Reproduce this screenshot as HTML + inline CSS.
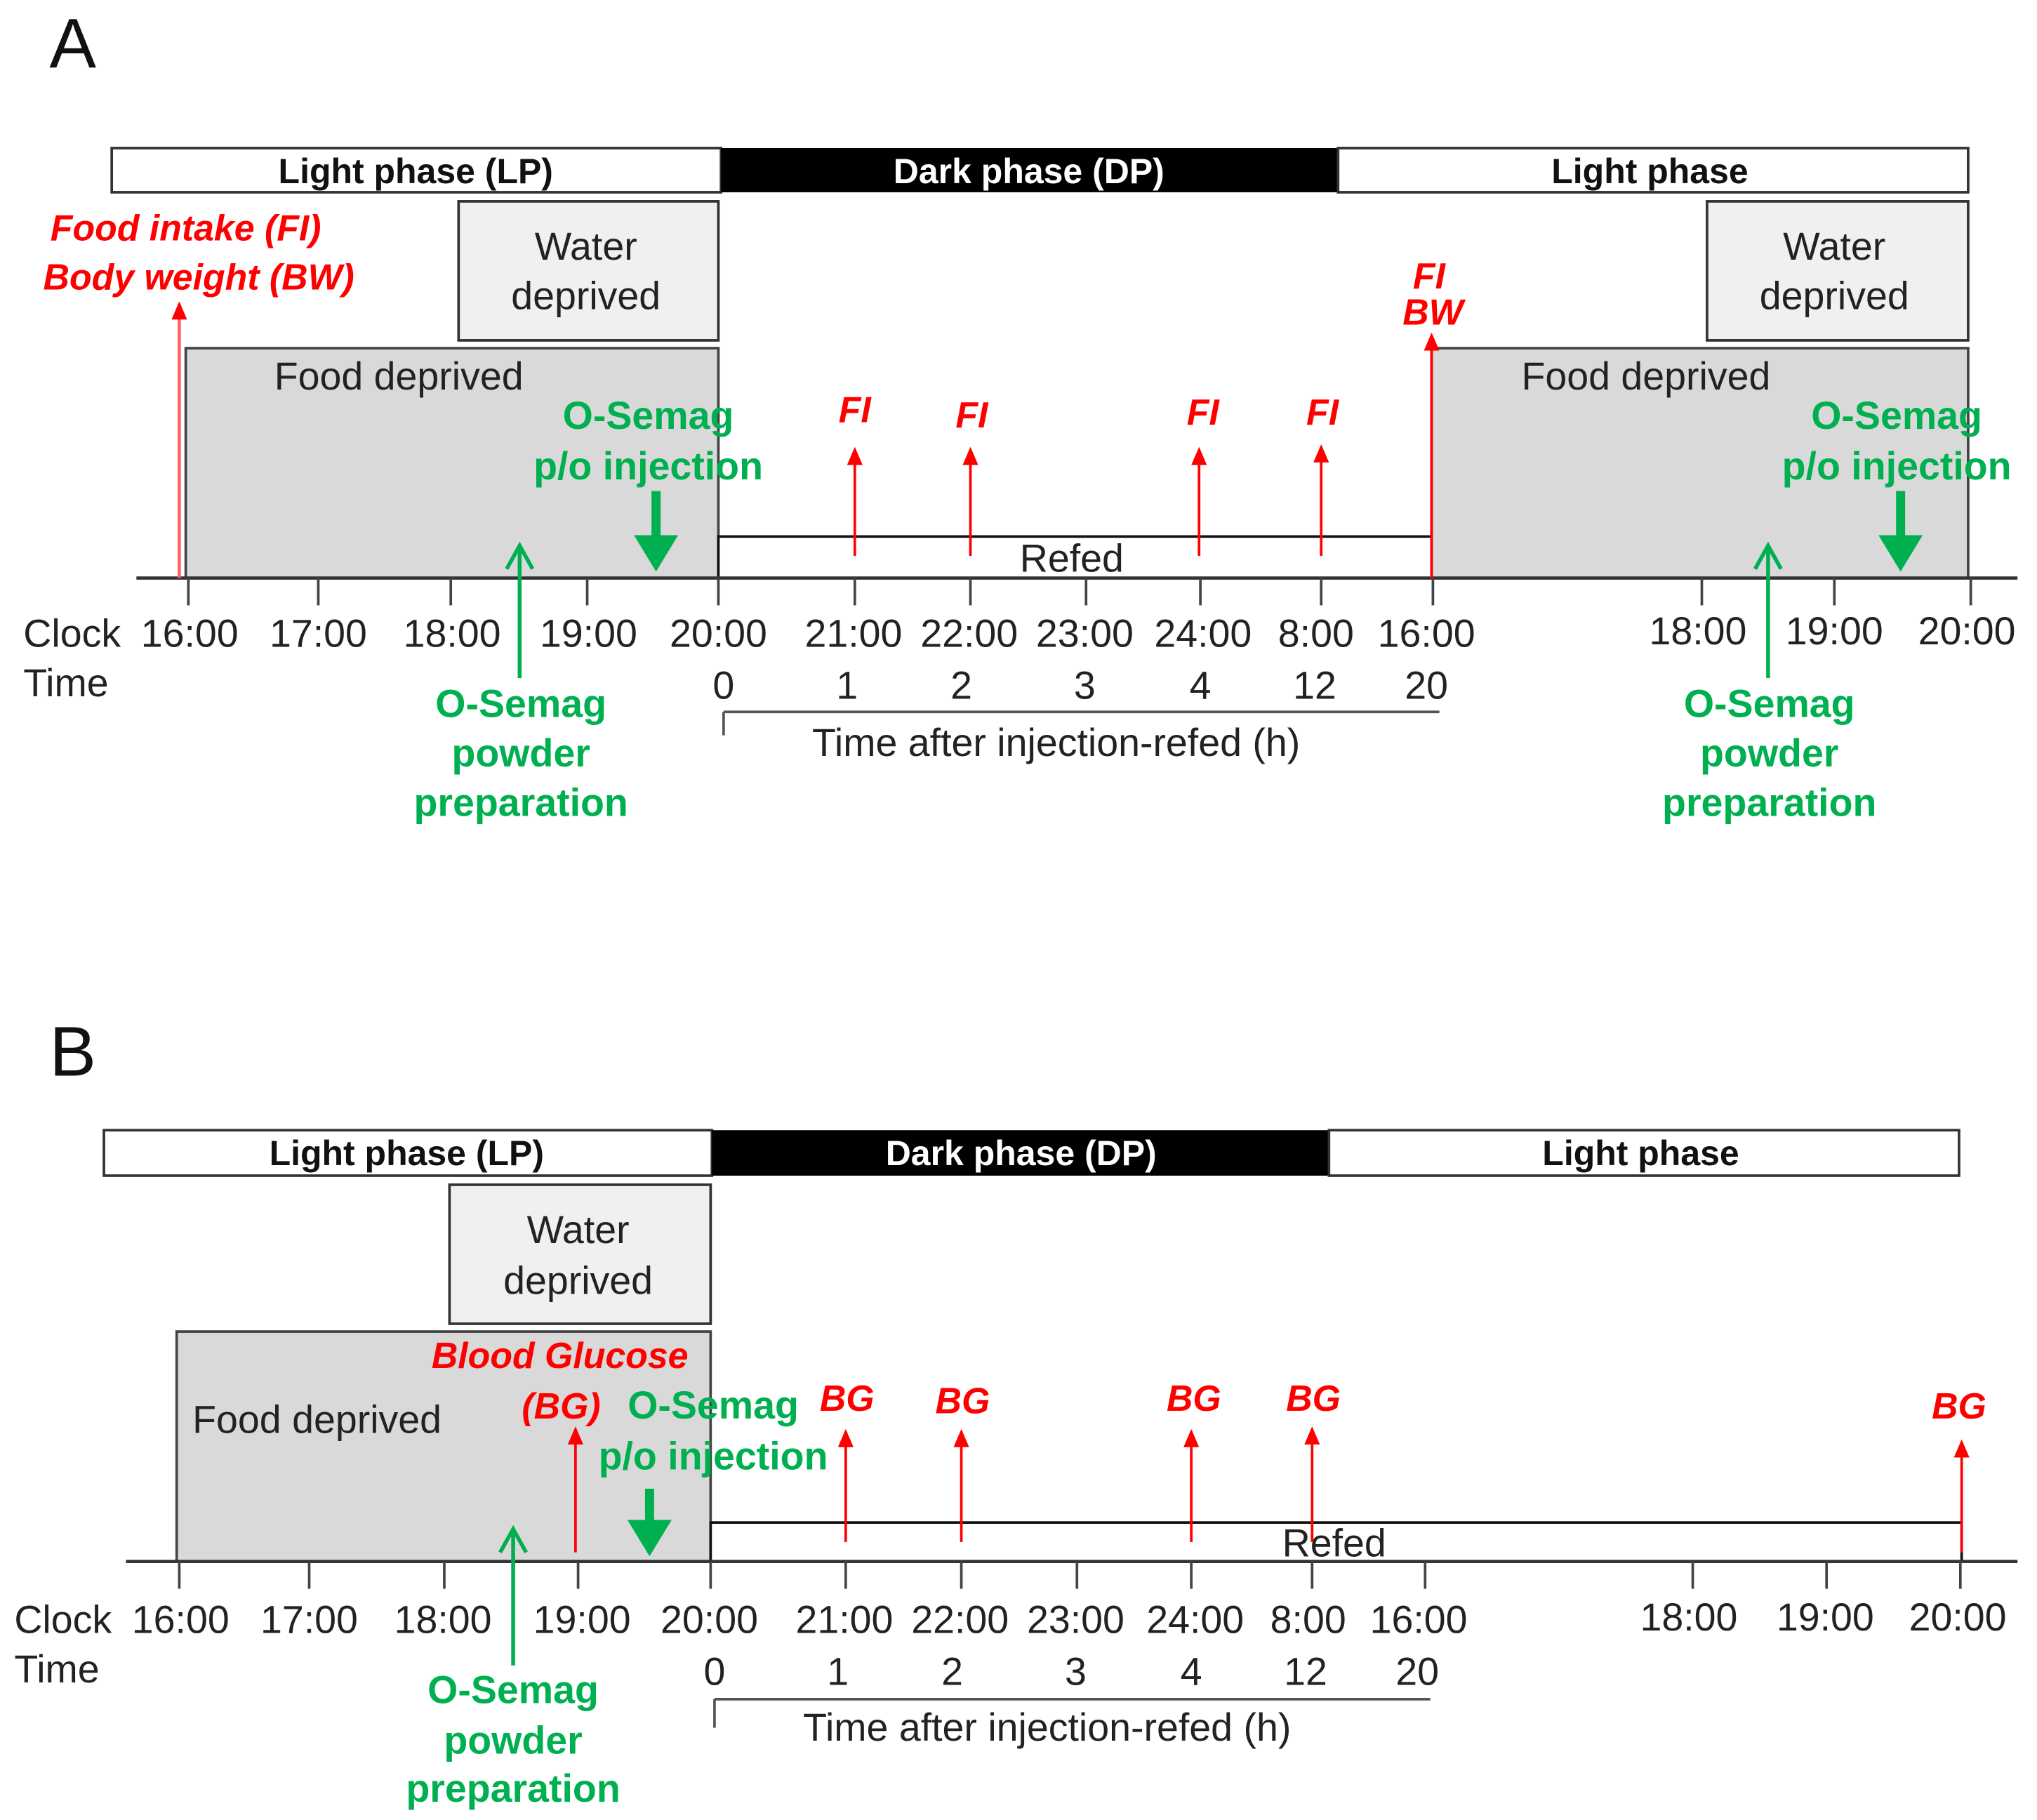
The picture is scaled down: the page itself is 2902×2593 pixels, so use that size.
<!DOCTYPE html>
<html><head><meta charset="utf-8"><style>
html,body{margin:0;padding:0;background:#fff}
svg{display:block}
text{font-family:"Liberation Sans",Arial,sans-serif}
.t{font-size:30px;fill:#222}
.ph{font-size:27px;font-weight:bold}
.r{font-size:28px;font-weight:bold;font-style:italic;fill:#ff0000}
.g{font-size:30px;font-weight:bold;fill:#00b050}
</style></head><body>
<svg width="2902" height="2593" viewBox="0 0 1568 1401" preserveAspectRatio="none" xmlns="http://www.w3.org/2000/svg">
<defs>
<marker id="ra" markerWidth="14" markerHeight="12" refX="12" refY="6" orient="auto" markerUnits="userSpaceOnUse"><path d="M0,0 L14,6 L0,12 z" fill="#ff0000"/></marker>
</defs>

<!-- PANEL A -->
<text x="38" y="52" font-size="54" fill="#111">A</text>
<rect x="86" y="114" width="469" height="34" fill="#fff" stroke="#333" stroke-width="2"/>
<rect x="555" y="114" width="475" height="34" fill="#000"/>
<rect x="1030" y="114" width="485" height="34" fill="#fff" stroke="#333" stroke-width="2"/>
<text x="320" y="141" class="ph" text-anchor="middle" fill="#111">Light phase (LP)</text>
<text x="792" y="141" class="ph" text-anchor="middle" fill="#fff">Dark phase (DP)</text>
<text x="1270" y="141" class="ph" text-anchor="middle" fill="#111">Light phase</text>

<rect x="353" y="155" width="200" height="107" fill="#f0f0f0" stroke="#333" stroke-width="2"/>
<text x="451" y="200" class="t" text-anchor="middle">Water</text>
<text x="451" y="238" class="t" text-anchor="middle">deprived</text>
<rect x="1314" y="155" width="201" height="107" fill="#f0f0f0" stroke="#333" stroke-width="2"/>
<text x="1412" y="200" class="t" text-anchor="middle">Water</text>
<text x="1412" y="238" class="t" text-anchor="middle">deprived</text>

<rect x="143" y="268" width="410" height="177" fill="#d9d9d9" stroke="#444" stroke-width="2"/>
<text x="307" y="300" class="t" text-anchor="middle">Food deprived</text>
<rect x="1102" y="268" width="413" height="177" fill="#d9d9d9" stroke="#444" stroke-width="2"/>
<text x="1267" y="300" class="t" text-anchor="middle">Food deprived</text>

<rect x="553" y="413" width="549" height="32" fill="#fff" stroke="#111" stroke-width="2"/>
<text x="825" y="440" class="t" text-anchor="middle">Refed</text>
<line x1="105" y1="445" x2="1553" y2="445" stroke="#333" stroke-width="2.5"/>
<g stroke="#444" stroke-width="2">
<line x1="145" y1="445" x2="145" y2="466"/><line x1="245" y1="445" x2="245" y2="466"/><line x1="347" y1="445" x2="347" y2="466"/><line x1="452" y1="445" x2="452" y2="466"/><line x1="553" y1="445" x2="553" y2="466"/><line x1="658" y1="445" x2="658" y2="466"/><line x1="747" y1="445" x2="747" y2="466"/><line x1="836" y1="445" x2="836" y2="466"/><line x1="924" y1="445" x2="924" y2="466"/><line x1="1017" y1="445" x2="1017" y2="466"/><line x1="1103" y1="445" x2="1103" y2="466"/><line x1="1310" y1="445" x2="1310" y2="466"/><line x1="1412" y1="445" x2="1412" y2="466"/><line x1="1517" y1="445" x2="1517" y2="466"/>
</g>
<g class="t" text-anchor="middle">
<text x="18" y="498" text-anchor="start">Clock</text>
<text x="146" y="498">16:00</text><text x="245" y="498">17:00</text><text x="348" y="498">18:00</text><text x="453" y="498">19:00</text><text x="553" y="498">20:00</text><text x="657" y="498">21:00</text><text x="746" y="498">22:00</text><text x="835" y="498">23:00</text><text x="926" y="498">24:00</text><text x="1013" y="498">8:00</text><text x="1098" y="498">16:00</text>
<text x="1307" y="496">18:00</text><text x="1412" y="496">19:00</text><text x="1514" y="496">20:00</text>
<text x="18" y="536" text-anchor="start">Time</text>
<text x="557" y="538">0</text><text x="652" y="538">1</text><text x="740" y="538">2</text><text x="835" y="538">3</text><text x="924" y="538">4</text><text x="1012" y="538">12</text><text x="1098" y="538">20</text>
<text x="813" y="582">Time after injection-refed (h)</text>
</g>
<line x1="557" y1="548" x2="1108" y2="548" stroke="#555" stroke-width="2"/>
<line x1="557" y1="548" x2="557" y2="566" stroke="#555" stroke-width="2"/>

<!-- red A -->
<line x1="138" y1="445" x2="138" y2="234" stroke="#ff6060" stroke-width="2.5" marker-end="url(#ra)"/>
<text x="143" y="185" class="r" text-anchor="middle">Food intake (FI)</text>
<text x="153" y="223" class="r" text-anchor="middle">Body weight (BW)</text>
<g stroke="#ff0000" stroke-width="2" marker-end="url(#ra)">
<line x1="658" y1="428" x2="658" y2="346"/><line x1="747" y1="428" x2="747" y2="346"/><line x1="923" y1="428" x2="923" y2="346"/><line x1="1017" y1="428" x2="1017" y2="344"/>
<line x1="1102" y1="445" x2="1102" y2="258"/>
</g>
<text x="658" y="325" class="r" text-anchor="middle">FI</text>
<text x="748" y="329" class="r" text-anchor="middle">FI</text>
<text x="926" y="327" class="r" text-anchor="middle">FI</text>
<text x="1018" y="327" class="r" text-anchor="middle">FI</text>
<text x="1100" y="222" class="r" text-anchor="middle">FI</text>
<text x="1103" y="250" class="r" text-anchor="middle">BW</text>

<!-- green A -->
<text x="499" y="330" class="g" text-anchor="middle">O-Semag</text>
<text x="499" y="369" class="g" text-anchor="middle">p/o injection</text>
<line x1="505" y1="378" x2="505" y2="415" stroke="#00b050" stroke-width="7"/>
<path d="M488,412 L522,412 L505,440 z" fill="#00b050"/>
<text x="1460" y="330" class="g" text-anchor="middle">O-Semag</text>
<text x="1460" y="369" class="g" text-anchor="middle">p/o injection</text>
<line x1="1463" y1="378" x2="1463" y2="415" stroke="#00b050" stroke-width="7"/>
<path d="M1446,412 L1480,412 L1463,440 z" fill="#00b050"/>
<g stroke="#00b050" stroke-width="3" fill="none">
<line x1="400" y1="522" x2="400" y2="420"/><path d="M390,438 L400,420 L410,438"/>
<line x1="1361" y1="522" x2="1361" y2="420"/><path d="M1351,438 L1361,420 L1371,438"/>
</g>
<g class="g" text-anchor="middle">
<text x="401" y="552">O-Semag</text><text x="401" y="590">powder</text><text x="401" y="628">preparation</text>
<text x="1362" y="552">O-Semag</text><text x="1362" y="590">powder</text><text x="1362" y="628">preparation</text>
</g>

<!-- PANEL B -->
<text x="38" y="828" font-size="54" fill="#111">B</text>
<rect x="80" y="870" width="468" height="35" fill="#fff" stroke="#333" stroke-width="2"/>
<rect x="548" y="870" width="475" height="35" fill="#000"/>
<rect x="1023" y="870" width="485" height="35" fill="#fff" stroke="#333" stroke-width="2"/>
<text x="313" y="897" class="ph" text-anchor="middle" fill="#111">Light phase (LP)</text>
<text x="786" y="897" class="ph" text-anchor="middle" fill="#fff">Dark phase (DP)</text>
<text x="1263" y="897" class="ph" text-anchor="middle" fill="#111">Light phase</text>

<rect x="346" y="912" width="201" height="107" fill="#f0f0f0" stroke="#333" stroke-width="2"/>
<text x="445" y="957" class="t" text-anchor="middle">Water</text>
<text x="445" y="996" class="t" text-anchor="middle">deprived</text>
<rect x="136" y="1025" width="411" height="177" fill="#d9d9d9" stroke="#444" stroke-width="2"/>
<text x="244" y="1103" class="t" text-anchor="middle">Food deprived</text>

<rect x="547" y="1172" width="963" height="30" fill="#fff" stroke="#111" stroke-width="2"/>
<text x="1027" y="1198" class="t" text-anchor="middle">Refed</text>
<line x1="97" y1="1202" x2="1553" y2="1202" stroke="#333" stroke-width="2.5"/>
<g stroke="#444" stroke-width="2">
<line x1="138" y1="1202" x2="138" y2="1223"/><line x1="238" y1="1202" x2="238" y2="1223"/><line x1="342" y1="1202" x2="342" y2="1223"/><line x1="445" y1="1202" x2="445" y2="1223"/><line x1="547" y1="1202" x2="547" y2="1223"/><line x1="651" y1="1202" x2="651" y2="1223"/><line x1="740" y1="1202" x2="740" y2="1223"/><line x1="829" y1="1202" x2="829" y2="1223"/><line x1="917" y1="1202" x2="917" y2="1223"/><line x1="1010" y1="1202" x2="1010" y2="1223"/><line x1="1097" y1="1202" x2="1097" y2="1223"/><line x1="1303" y1="1202" x2="1303" y2="1223"/><line x1="1406" y1="1202" x2="1406" y2="1223"/><line x1="1509" y1="1202" x2="1509" y2="1223"/>
</g>
<g class="t" text-anchor="middle">
<text x="11" y="1257" text-anchor="start">Clock</text>
<text x="139" y="1257">16:00</text><text x="238" y="1257">17:00</text><text x="341" y="1257">18:00</text><text x="448" y="1257">19:00</text><text x="546" y="1257">20:00</text><text x="650" y="1257">21:00</text><text x="739" y="1257">22:00</text><text x="828" y="1257">23:00</text><text x="920" y="1257">24:00</text><text x="1007" y="1257">8:00</text><text x="1092" y="1257">16:00</text>
<text x="1300" y="1255">18:00</text><text x="1405" y="1255">19:00</text><text x="1507" y="1255">20:00</text>
<text x="11" y="1295" text-anchor="start">Time</text>
<text x="550" y="1297">0</text><text x="645" y="1297">1</text><text x="733" y="1297">2</text><text x="828" y="1297">3</text><text x="917" y="1297">4</text><text x="1005" y="1297">12</text><text x="1091" y="1297">20</text>
<text x="806" y="1340">Time after injection-refed (h)</text>
</g>
<line x1="550" y1="1308" x2="1101" y2="1308" stroke="#555" stroke-width="2"/>
<line x1="550" y1="1308" x2="550" y2="1330" stroke="#555" stroke-width="2"/>

<!-- red B -->
<text x="431" y="1053" class="r" text-anchor="middle">Blood Glucose</text>
<text x="432" y="1092" class="r" text-anchor="middle">(BG)</text>
<g stroke="#ff0000" stroke-width="2" marker-end="url(#ra)">
<line x1="443" y1="1195" x2="443" y2="1100"/>
<line x1="651" y1="1187" x2="651" y2="1102"/><line x1="740" y1="1187" x2="740" y2="1102"/><line x1="917" y1="1187" x2="917" y2="1102"/><line x1="1010" y1="1187" x2="1010" y2="1100"/>
<line x1="1510" y1="1195" x2="1510" y2="1110"/>
</g>
<text x="652" y="1086" class="r" text-anchor="middle">BG</text>
<text x="741" y="1088" class="r" text-anchor="middle">BG</text>
<text x="919" y="1086" class="r" text-anchor="middle">BG</text>
<text x="1011" y="1086" class="r" text-anchor="middle">BG</text>
<text x="1508" y="1092" class="r" text-anchor="middle">BG</text>

<!-- green B -->
<text x="549" y="1092" class="g" text-anchor="middle">O-Semag</text>
<text x="549" y="1131" class="g" text-anchor="middle">p/o injection</text>
<line x1="500" y1="1146" x2="500" y2="1173" stroke="#00b050" stroke-width="7"/>
<path d="M483,1170 L517,1170 L500,1198 z" fill="#00b050"/>
<g stroke="#00b050" stroke-width="3" fill="none">
<line x1="395" y1="1282" x2="395" y2="1177"/><path d="M385,1195 L395,1177 L405,1195"/>
</g>
<g class="g" text-anchor="middle">
<text x="395" y="1311">O-Semag</text><text x="395" y="1350">powder</text><text x="395" y="1387">preparation</text>
</g>
</svg>
</body></html>
